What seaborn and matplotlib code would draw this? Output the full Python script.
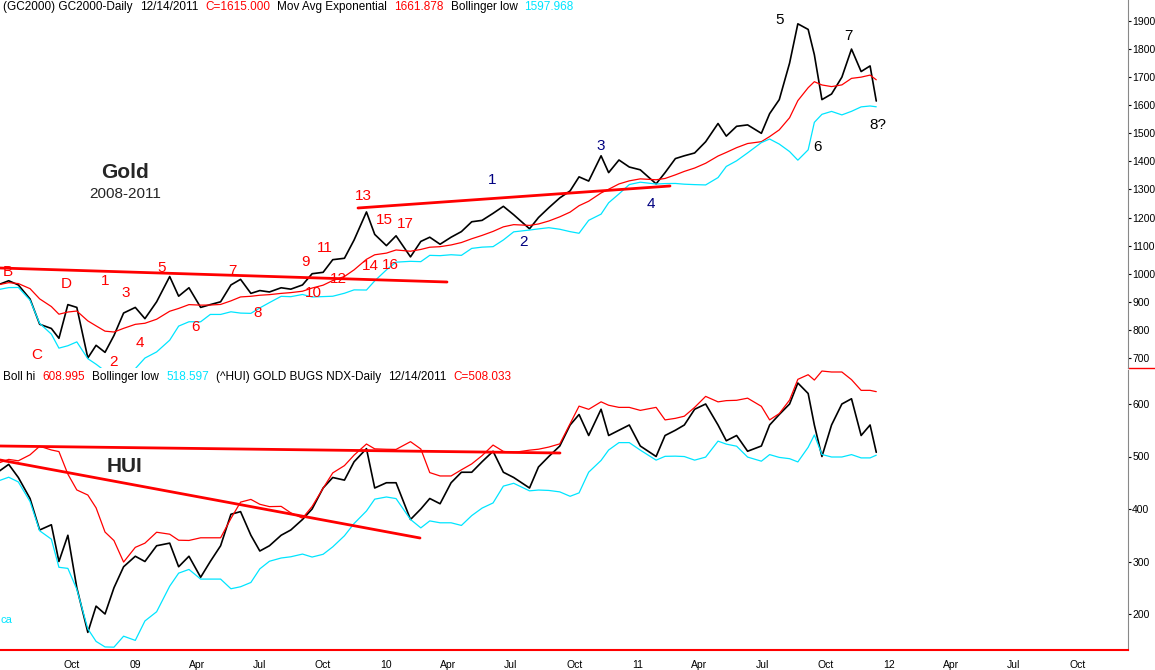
import numpy as np
import pandas as pd
import matplotlib
matplotlib.use("Agg")
import matplotlib.pyplot as plt
import matplotlib.dates as mdates
import seaborn as sns

sns.set_style("white")
plt.rcParams['font.family'] = ['Liberation Sans', 'DejaVu Sans']

# semi-monthly closes
dates = pd.to_datetime([
    "2008-06-15", "2008-07-01", "2008-07-15", "2008-08-01", "2008-08-15", "2008-09-01", "2008-09-12",
    "2008-09-25", "2008-10-08", "2008-10-24", "2008-11-05", "2008-11-18", "2008-12-01", "2008-12-15",
    "2009-01-01", "2009-01-15", "2009-02-01", "2009-02-20", "2009-03-05", "2009-03-20", "2009-04-06",
    "2009-04-20", "2009-05-05", "2009-05-20", "2009-06-03", "2009-06-18", "2009-07-01", "2009-07-15",
    "2009-08-01", "2009-08-15", "2009-09-01", "2009-09-15", "2009-10-01", "2009-10-15", "2009-11-01",
    "2009-11-15", "2009-12-03", "2009-12-15", "2010-01-01", "2010-01-15", "2010-02-05", "2010-02-20",
    "2010-03-05", "2010-03-20", "2010-04-05", "2010-04-20", "2010-05-05", "2010-05-20", "2010-06-05",
    "2010-06-20", "2010-07-05", "2010-07-28", "2010-08-10", "2010-08-25", "2010-09-10", "2010-09-25",
    "2010-10-08", "2010-10-22", "2010-11-09", "2010-11-20", "2010-12-05", "2010-12-20", "2011-01-05",
    "2011-01-28", "2011-02-10", "2011-02-25", "2011-03-10", "2011-03-25", "2011-04-10", "2011-04-28",
    "2011-05-10", "2011-05-25", "2011-06-10", "2011-06-30", "2011-07-12", "2011-07-26", "2011-08-10",
    "2011-08-22", "2011-09-06", "2011-09-15", "2011-09-26", "2011-10-10", "2011-10-25", "2011-11-08",
    "2011-11-22", "2011-12-05", "2011-12-14"])

gold = [960, 975, 960, 910, 820, 805, 770,
        890, 880, 700, 745, 720, 780, 860,
        880, 840, 900, 990, 920, 950, 880,
        890, 900, 960, 980, 930, 940, 935,
        950, 945, 960, 1000, 1005, 1050, 1055,
        1120, 1220, 1140, 1100, 1135, 1060, 1115,
        1130, 1105, 1130, 1150, 1185, 1190, 1215,
        1240, 1210, 1160, 1200, 1235, 1270, 1295,
        1345, 1330, 1420, 1360, 1405, 1380, 1370,
        1320, 1360, 1410, 1420, 1430, 1470, 1535,
        1490, 1525, 1530, 1500, 1570, 1620, 1750,
        1890, 1870, 1780, 1620, 1640, 1700, 1800,
        1720, 1740, 1615]

hui = [470, 485, 460, 420, 360, 370, 300,
       350, 250, 165, 215, 200, 250, 290,
       310, 300, 330, 335, 290, 310, 270,
       300, 330, 390, 395, 350, 320, 330,
       350, 360, 380, 400, 440, 460, 455,
       490, 515, 440, 450, 450, 380, 400,
       420, 410, 450, 470, 470, 490, 510,
       470, 460, 440, 480, 500, 520, 560,
       580, 540, 590, 540, 550, 560, 520,
       500, 540, 550, 560, 590, 600, 560,
       530, 540, 510, 520, 560, 580, 600,
       640, 620, 560, 500, 560, 600, 610,
       540, 560, 508]

g = pd.Series(gold, index=dates)
h = pd.Series(hui, index=dates)
g_ema = g.ewm(span=10).mean()
g_mid = g.rolling(6, min_periods=1).mean()
g_blo = g_mid - 1.6 * g.rolling(6, min_periods=2).std().bfill()
h_mid = h.rolling(6, min_periods=1).mean()
h_sd = h.rolling(6, min_periods=2).std().bfill()
h_bhi = h_mid + 1.6 * h_sd
h_blo = h_mid - 1.6 * h_sd

# pixel helpers for annotation placement
def xd(x):
    return pd.Timestamp("2008-10-01") + pd.Timedelta(days=(x - 72) / 0.688)

def yg(y):
    return 1900 - (y - 21) / 0.2808

def yh(y):
    return 600 - (y - 404) / 0.525

fig = plt.figure(figsize=(11.55, 6.7), dpi=100)
W, H = 1155, 670
ax1 = fig.add_axes([0, 1 - 368 / H, 1128 / W, 368 / H])
ax2 = fig.add_axes([0, 20 / H, 1128 / W, 280 / H])

CY = "#00e5ff"
for ax in (ax1, ax2):
    ax.set_xlim(xd(0), xd(1128))
    ax.set_facecolor("none")
    ax.yaxis.tick_right()
    ax.tick_params(axis='y', labelsize=7.5, length=2, pad=1, colors='black')
    for s in ("top", "left"):
        ax.spines[s].set_visible(False)
    ax.spines["right"].set_color("#888888")
ax1.spines["bottom"].set_visible(False)
ax2.spines["bottom"].set_color("red")
ax2.spines["bottom"].set_linewidth(1.5)

sns.lineplot(x=g.index, y=g.values, ax=ax1, color="black", lw=1.2)
sns.lineplot(x=g.index, y=g_ema.values, ax=ax1, color="red", lw=0.9)
sns.lineplot(x=g.index, y=g_blo.values, ax=ax1, color=CY, lw=0.9)
ax1.set_ylim(yg(368), yg(0))
ax1.set_yticks(range(700, 2000, 100))
ax1.set_xticks([])
# short red marker line on the right edge between panels
ax1.plot([1128 / W, 1.0], [1 - 368 / H, 1 - 368 / H], transform=fig.transFigure, color="red", lw=1, clip_on=False)

sns.lineplot(x=h.index, y=h.values, ax=ax2, color="black", lw=1.2)
sns.lineplot(x=h.index, y=h_bhi.values, ax=ax2, color="red", lw=0.9)
sns.lineplot(x=h.index, y=h_blo.values, ax=ax2, color=CY, lw=0.9)
ax2.set_ylim(yh(650), yh(370))
ax2.set_yticks(range(200, 700, 100))

ticks = pd.date_range("2008-10-01", "2012-10-01", freq="QS")
labels = [("%02d" % (d.year % 100)) if d.month == 1 else d.strftime("%b") for d in ticks]
ax2.set_xticks(ticks)
ax2.set_xticklabels(labels, fontsize=7.5)
ax2.xaxis.set_minor_locator(mdates.WeekdayLocator(byweekday=0))
ax2.tick_params(axis='x', which='both', colors='red', length=3, pad=1)
ax2.tick_params(axis='x', which='major', length=6)
for t in ax2.get_xticklabels():
    t.set_color("black")
for ax in (ax1, ax2):
    ax.set_xlabel("")
    ax.set_ylabel("")

# headers
def header(ax, y, parts):
    x = 0.003
    r = fig.canvas.get_renderer()
    for txt, col in parts:
        t = ax.text(x, y, txt, transform=ax.transAxes, fontsize=8.5, color=col, va="top")
        bb = t.get_window_extent(renderer=r)
        x += (bb.width + 7) / ax.bbox.width

header(ax1, 0.997, [("(GC2000) GC2000-Daily", "black"), ("12/14/2011", "black"), ("C=1615.000", "red"),
                    ("Mov Avg Exponential", "black"), ("1661.878", "red"), ("Bollinger low", "black"),
                    ("1597.968", CY)])
header(ax2, 0.995, [("Boll hi", "black"), ("608.995", "red"), ("Bollinger low", "black"), ("518.597", CY),
                    ("(^HUI) GOLD BUGS NDX-Daily", "black"), ("12/14/2011", "black"), ("C=508.033", "red")])

# trendlines
ax1.plot([xd(0), xd(447)], [yg(268), yg(282)], color="red", lw=2)
ax1.plot([xd(358), xd(670)], [yg(208), yg(186)], color="red", lw=2)
ax2.plot([xd(0), xd(560)], [yh(446), yh(453)], color="red", lw=2)
ax2.plot([xd(0), xd(420)], [yh(460), yh(538)], color="red", lw=2)

wave = [("B", 8, 272, "red"), ("C", 37, 355, "red"), ("D", 66, 284, "red"), ("1", 105, 281, "red"),
        ("2", 113, 362, "red"), ("3", 126, 293, "red"), ("4", 140, 343, "red"), ("5", 162, 268, "red"),
        ("6", 196, 327, "red"), ("7", 232, 271, "red"), ("8", 258, 313, "red"), ("9", 305, 262, "red"),
        ("10", 313, 293, "red"), ("11", 325, 248, "red"), ("12", 338, 279, "red"), ("13", 363, 196, "red"),
        ("14", 370, 266, "red"), ("15", 384, 220, "red"), ("16", 390, 265, "red"), ("17", 405, 224, "red"),
        ("1", 492, 180, "navy"), ("2", 524, 242, "navy"), ("3", 601, 146, "navy"), ("4", 651, 204, "navy"),
        ("5", 780, 20, "black"), ("6", 818, 147, "black"), ("7", 848, 36, "black"), ("8?", 878, 125, "black")]
for txt, x, y, col in wave:
    ax1.text(xd(x), yg(y), txt, color=col, fontsize=11, ha="center", va="center")

ax1.text(xd(125), yg(172), "Gold", fontsize=15, fontweight="bold", ha="center", va="center")
ax1.text(xd(125), yg(194), "2008-2011", fontsize=11, ha="center", va="center")
ax2.text(xd(125), yh(466), "HUI", fontsize=15, fontweight="bold", ha="center", va="center")
ax2.text(xd(6), yh(620), "ca", fontsize=8, color=CY, ha="center", va="center")

fig.savefig("out.png", dpi=100)
